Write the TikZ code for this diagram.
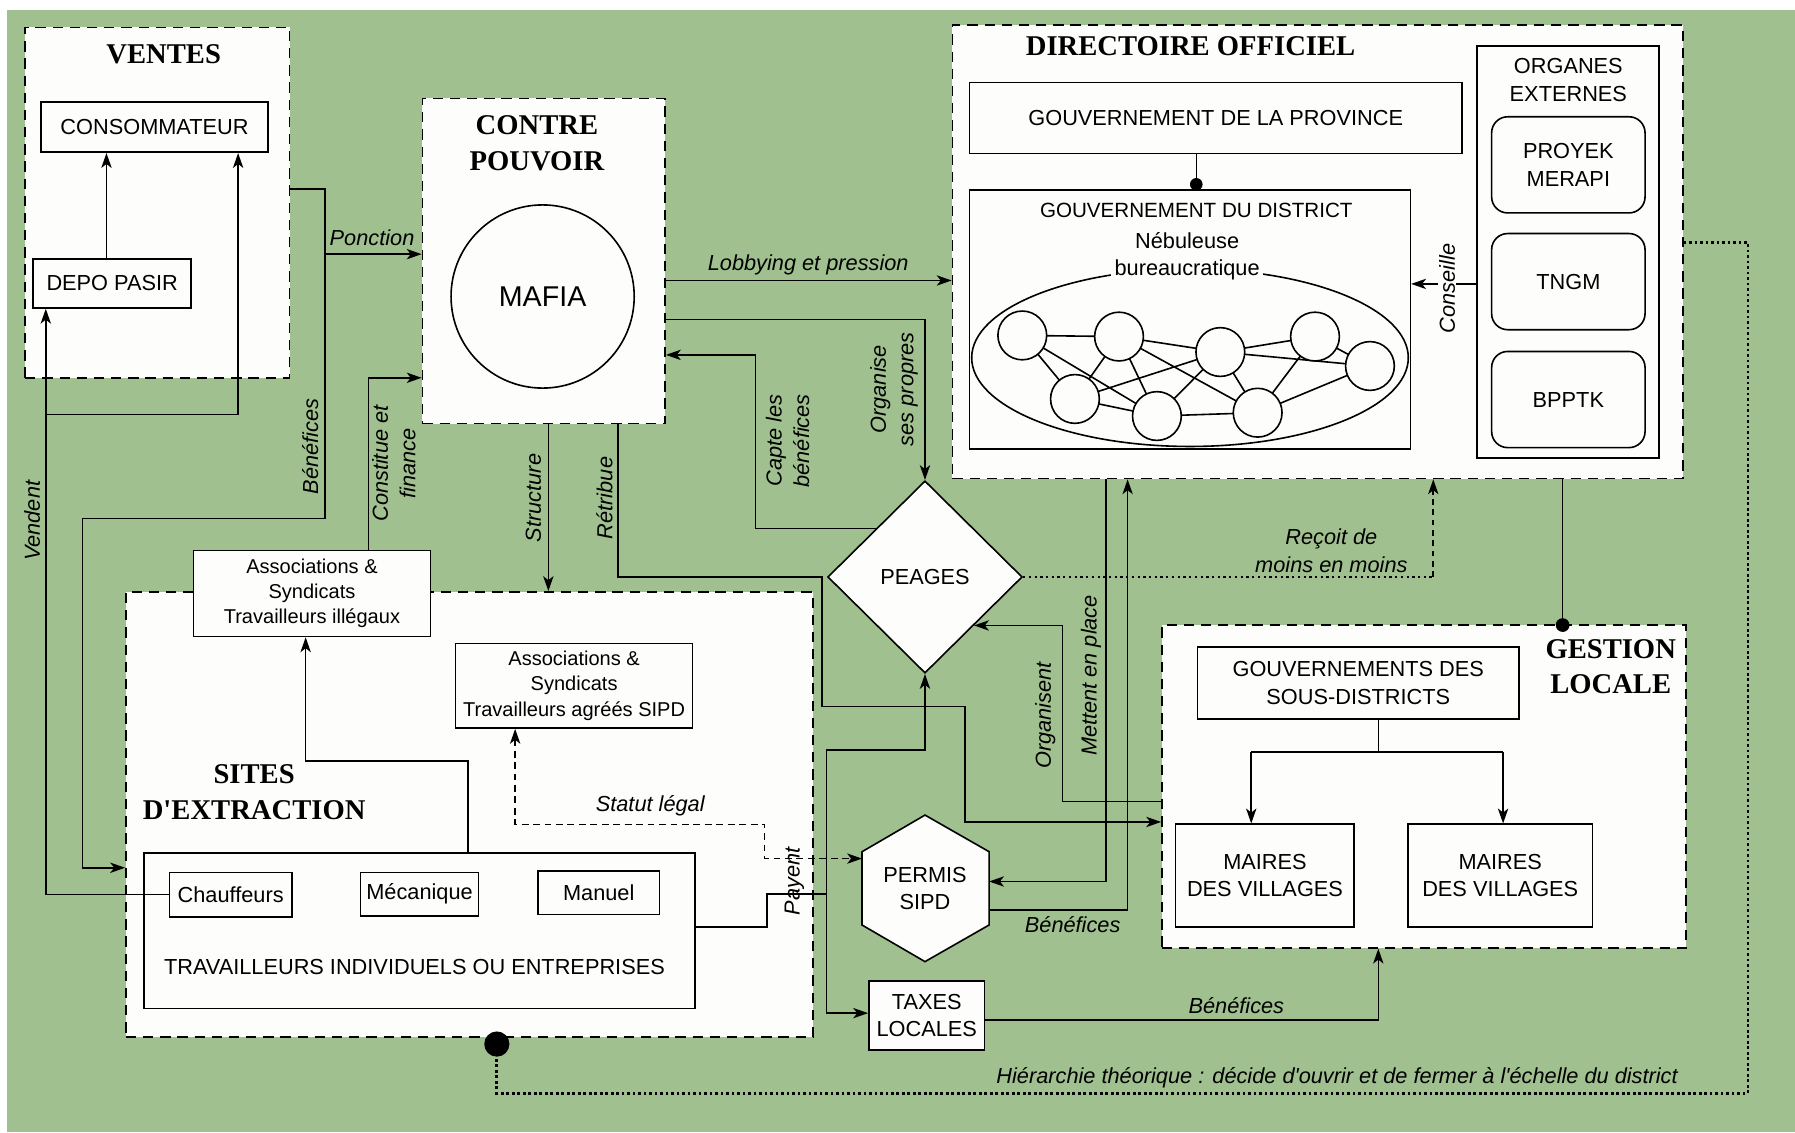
\documentclass[tikz,border=0pt]{standalone}
\usepackage{fontspec}
\setmainfont{Liberation Sans}
\newfontfamily\serifb{Liberation Serif}
\usetikzlibrary{arrows.meta,shapes.geometric,calc}
\definecolor{bggreen}{RGB}{160,193,143}
\definecolor{boxw}{RGB}{253,253,251}
\tikzset{
  >={Stealth[length=13pt,width=9pt,inset=3.5pt]},
  ln/.style={line width=1.4pt},
  arr/.style={ln,->},
  grp/.style={draw, ln, dash pattern=on 9pt off 6pt, fill=boxw, inner sep=0pt, rectangle},
  bx/.style={draw, ln, fill=boxw, inner sep=0pt, align=center, font=\fontsize{19}{24}\selectfont},
  rbx/.style={bx, rounded corners=14pt},
  tx/.style={inner sep=0pt, align=center, font=\fontsize{19}{24}\selectfont},
  lab/.style={inner sep=1pt, align=center, font=\fontsize{19}{24}\selectfont\itshape},
  ttl/.style={inner sep=0pt, align=center, font=\fontsize{25}{31}\selectfont\serifb\bfseries},
  hier/.style={line width=2.4pt, dash pattern=on 2.4pt off 2.4pt},
  fdot/.style={line width=1.4pt, dash pattern=on 2pt off 3pt},
  fdash/.style={line width=1.4pt, dash pattern=on 5pt off 4pt, ->},
  statut/.style={line width=1.3pt, dash pattern=on 6pt off 4pt, <->},
  net/.style={circle, draw, ln, fill=boxw, minimum size=42.6pt, inner sep=0pt}
}
\begin{document}
\begin{tikzpicture}[x=1pt,y=-1pt]
\useasboundingbox (0,0) rectangle (1568,989);
\fill[bggreen] (6,9) rectangle (1568,989);

% ---------- groups ----------
\node[grp,minimum width=231pt,minimum height=306pt] (ventes) at (137.5,177) {};
\node[grp,minimum width=212pt,minimum height=284pt] (cp) at (475,228) {};
\node[grp,minimum width=638pt,minimum height=396pt] (dir) at (1151,220) {};
\node[grp,minimum width=600pt,minimum height=389pt] (sites) at (410,711.5) {};
\node[grp,minimum width=458pt,minimum height=282pt] (gestion) at (1244,687) {};

% ---------- titles ----------
\node[ttl] (tv) at (143,47) {VENTES};
\node[ttl] (tcp) at (469,125) {CONTRE\\POUVOIR};
\node[ttl] (tdir) at (1040,40) {DIRECTOIRE OFFICIEL};
\node[ttl] (tsites) at (222,692) {SITES\\D\textquotesingle EXTRACTION};
\node[ttl] (tgest) at (1407,582.5) {GESTION\\LOCALE};

% ---------- ventes ----------
\node[bx,minimum width=198pt,minimum height=44pt] (conso) at (135,111) {CONSOMMATEUR};
\node[bx,minimum width=138pt,minimum height=43pt] (depo) at (98,247.5) {DEPO PASIR};

% ---------- contre pouvoir ----------
\node[circle,draw,ln,fill=boxw,minimum size=160pt,inner sep=0pt,font=\fontsize{25}{30}\selectfont] (mafia) at (474,259) {MAFIA};

% ---------- directoire ----------
\node[bx,minimum width=430pt,minimum height=62pt] (prov) at (1062,103) {GOUVERNEMENT DE LA PROVINCE};
\node[bx,minimum width=385pt,minimum height=226pt] (dist) at (1039.5,279) {};
\node[tx,font=\fontsize{18}{22}\selectfont] (tdist) at (1045,184) {GOUVERNEMENT DU DISTRICT};
\draw[ln] (1039.5,312.5) ellipse [x radius=190.7pt, y radius=77.5pt];
\node[tx,fill=boxw,inner sep=3pt] (neb) at (1037,224) {Nébuleuse\\bureaucratique};
\coordinate (nA) at (893,293);
\coordinate (nB) at (977.5,294);
\coordinate (nC) at (1066,307.5);
\coordinate (nD) at (1148.7,294);
\coordinate (nE) at (1196.7,319.7);
\coordinate (nF) at (939,348.5);
\coordinate (nG) at (1010.6,363.4);
\coordinate (nH) at (1098.6,360.5);
\draw[ln] (nA)--(nB) (nA)--(nF) (nA)--(nG) (nB)--(nF) (nB)--(nG) (nB)--(nC) (nB)--(nH)
  (nF)--(nC) (nF)--(nG) (nG)--(nC) (nG)--(nH) (nC)--(nD) (nC)--(nE) (nC)--(nH)
  (nD)--(nE) (nD)--(nH) (nH)--(nE);
\foreach \n in {A,B,C,D,E,F,G,H} \node[net] (c\n) at (n\n) {};

\node[bx,minimum width=159pt,minimum height=360pt] (org) at (1369.5,220) {};
\node[tx] (torg) at (1370,70) {ORGANES\\EXTERNES};
\node[rbx,minimum width=134pt,minimum height=84pt] (proyek) at (1370,144) {PROYEK\\MERAPI};
\node[rbx,minimum width=134pt,minimum height=84pt] (tngm) at (1370,246) {TNGM};
\node[rbx,minimum width=134pt,minimum height=84pt] (bpptk) at (1370,349) {BPPTK};

% ---------- sites ----------
\node[bx,font=\fontsize{17.5}{22}\selectfont,minimum width=207pt,minimum height=75pt] (assill) at (272.5,518.5) {Associations \&\\Syndicats\\Travailleurs illégaux};
\node[bx,font=\fontsize{17.5}{22}\selectfont,minimum width=207pt,minimum height=74pt] (assagr) at (501.5,599) {Associations \&\\Syndicats\\Travailleurs agréés SIPD};
\node[bx,minimum width=481pt,minimum height=136pt] (trav) at (366.5,813) {};
\node[tx] (ttrav) at (362,845) {TRAVAILLEURS INDIVIDUELS OU ENTREPRISES};
\node[bx,minimum width=107pt,minimum height=39pt] (chauf) at (201.5,781.5) {Chauffeurs};
\node[bx,minimum width=103pt,minimum height=38pt] (meca) at (366.5,781) {Mécanique};
\node[bx,minimum width=106pt,minimum height=38pt] (manuel) at (523,780) {Manuel};

% ---------- centre ----------
\node[diamond,draw,ln,fill=boxw,minimum width=170pt,minimum height=168pt,inner sep=0pt,font=\fontsize{19}{24}\selectfont] (peages) at (808,504) {PEAGES};
\draw[ln,fill=boxw] (808,712) -- (864,744) -- (864,808) -- (808,840) -- (753,808) -- (753,744) -- cycle;
\node[tx] (permis) at (808,776) {PERMIS\\SIPD};
\coordinate (pw) at (753,750);
\coordinate (pe1) at (864,770);
\coordinate (pe2) at (864,795);
\node[bx,minimum width=101pt,minimum height=60pt] (taxes) at (809.5,887) {TAXES\\LOCALES};

% ---------- gestion ----------
\node[bx,minimum width=281pt,minimum height=63pt] (sous) at (1186.5,596.5) {GOUVERNEMENTS DES\\SOUS-DISTRICTS};
\node[bx,minimum width=156pt,minimum height=90pt] (maire1) at (1105,765) {MAIRES\\DES VILLAGES};
\node[bx,minimum width=161pt,minimum height=90pt] (maire2) at (1310.5,765) {MAIRES\\DES VILLAGES};

% ---------- connectors ----------
\draw[arr] (depo.north -| 93,0) -- (conso.south -| 93,0);
\draw[arr] (chauf.west) -- (chauf.west -| 40,0) -- (depo.south -| 40,0);
\draw[arr] (40,362) -- (208,362) -- (conso.south -| 208,0);
\draw[arr] (ventes.east |- 0,165) -- (284,165) -- (284,453) -- (72,453) -- (72,758) -- (sites.west |- 0,758);
\draw[arr] (284,222) -- (cp.west |- 0,222);
\draw[arr] (assill.north -| 322,0) -- (322,330) -- (cp.west |- 0,330);
\draw[arr] (trav.north -| 409,0) -- (409,665) -- (267,665) -- (assill.south -| 267,0);
\draw[arr] (cp.south -| 479,0) -- (sites.north -| 479,0);
\draw[arr] (cp.south -| 540,0) -- (540,504) -- (718,504) -- (718,617) -- (843,617) -- (843,718) -- (gestion.west |- 0,718);
\draw[arr] (cp.east |- 0,245) -- (dir.west |- 0,245);
\draw[arr] (cp.east |- 0,279) -- (808,279) -- (peages.north);
\draw[arr] (peages.north west) -- (peages.north west -| 660,0) -- (660,310) -- (cp.east |- 0,310);
\draw[fdot] (peages.east) -- (1252,504);
\draw[fdash] (1252,504) -- (dir.south -| 1252,0);
\draw[arr] (org.west |- 0,248) -- (dist.east |- 0,248);
\draw[ln] (prov.south -| 1045,0) -- (dist.north -| 1045,0);
\fill (1045,161) circle[radius=5.5pt];
\draw[ln] (dir.south -| 1365,0) -- (gestion.north -| 1365,0);
\fill (1365,546) circle[radius=6pt];
\draw[hier] (dir.east |- 0,212) -- (1527,212) -- (1527,955) -- (434,955) -- (434,912);
\fill (434,912) circle[radius=11pt];
\draw[arr] (gestion.west |- 0,700) -- (928,700) -- (peages.south east -| 928,0) -- (peages.south east);
\draw[arr] (dir.south -| 966,0) -- (966,770) -- (pe1);
\draw[arr] (pe2) -- (985,795) -- (dir.south -| 985,0);
\draw[ln] (sous.south -| 1204,0) -- (1204,657);
\draw[ln] (1093,657) -- (1313,657);
\draw[arr] (1093,657) -- (maire1.north -| 1093,0);
\draw[arr] (1313,657) -- (maire2.north -| 1313,0);
\draw[arr] (taxes.east |- 0,891) -- (1204,891) -- (gestion.south -| 1204,0);
\draw[ln] (trav.east |- 0,810) -- (670,810) -- (670,781) -- (722,781);
\draw[arr] (722,781) -- (722,655) -- (808,655) -- (peages.south);
\draw[arr] (722,781) -- (722,885) -- (taxes.west |- 0,885);
\draw[statut] (assagr.south -| 450,0) -- (450,720) -- (668,720) -- (668,750) -- (pw);

% ---------- labels ----------
\node[lab,rotate=90] at (28,455) {Vendent};
\node[lab] at (325,208) {Ponction};
\node[lab,rotate=90] at (271,390) {Bénéfices};
\node[lab,rotate=90] at (344,405) {Constitue et\\finance};
\node[lab,rotate=90] at (466,435) {Structure};
\node[lab,rotate=90] at (528,435) {Rétribue};
\node[lab] at (706,231) {Lobbying et pression};
\node[lab,rotate=90] at (688,385) {Capte les\\bénéfices};
\node[lab,rotate=90] at (781,340) {Organise\\ses propres};
\node[lab] at (1163,481) {Reçoit de\\moins en moins};
\node[lab,rotate=90,fill=boxw] at (1264,252) {Conseille};
\node[lab,rotate=90] at (913,625) {Organisent};
\node[lab,rotate=90] at (953,590) {Mettent en place};
\node[lab] at (937,808) {Bénéfices};
\node[lab] at (1080,878) {Bénéfices};
\node[lab] at (568,704) {Statut légal};
\node[lab,rotate=90] at (694,770) {Payent};
\node[lab] at (1168,941) {Hiérarchie théorique : décide d\textquotesingle ouvrir et de fermer à l\textquotesingle échelle du district};
\end{tikzpicture}
\end{document}
